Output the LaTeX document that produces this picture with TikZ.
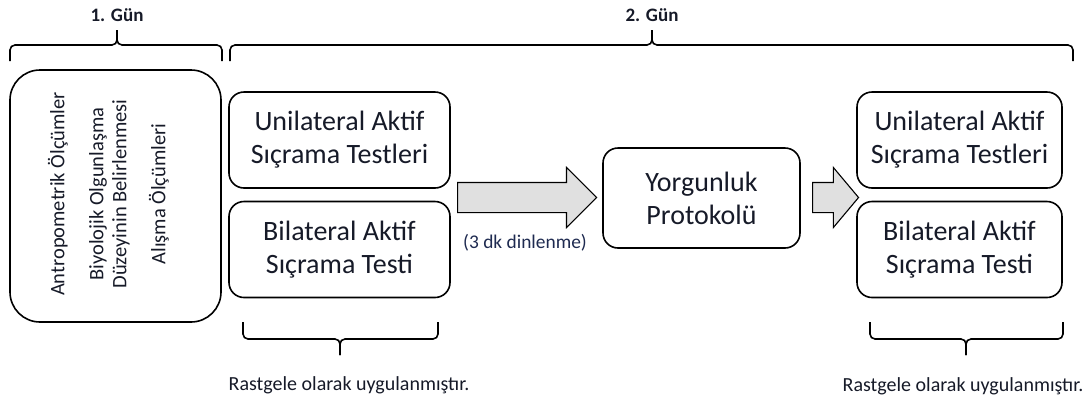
\documentclass[tikz,border=0pt]{standalone}
\usepackage{fontspec}
\setmainfont{Carlito}
\usepackage{tikz}
\usetikzlibrary{shapes.arrows}

\definecolor{textcol}{RGB}{22,26,40}
\definecolor{restcol}{RGB}{30,42,80}
\definecolor{arrowfill}{RGB}{224,224,224}

\begin{document}
\begin{tikzpicture}[x=1pt, y=-1pt, auto]
    \tikzstyle{block} = [draw, rectangle, rounded corners=15pt, line width=1.6pt, align=center, text=textcol, minimum width=221pt, minimum height=96pt, inner sep=0pt, font=\fontsize{28}{33}\selectfont];
    \tikzstyle{bigarrow} = [draw, single arrow, fill=arrowfill, line width=1.1pt, inner xsep=0pt, inner ysep=14.5pt, single arrow head extend=15pt, anchor=tail];
    \tikzstyle{brace} = [draw, line width=1.6pt, rounded corners=5pt];
    \tikzstyle{note} = [text=textcol, font=\fontsize{20}{24}\selectfont];
    \tikzstyle{day} = [text=textcol, font=\bfseries\fontsize{19}{22}\selectfont];
    \useasboundingbox (0,0) rectangle (1082,400);

    % 1. gun
    \node[block, minimum width=211pt, minimum height=252pt, rounded corners=30pt] (pre) at (115.5,196) {};
    \node[rotate=90, align=center, text=textcol, font=\fontsize{20.5}{23}\selectfont] (pretext) at (108.5,194)
        {Antropometrik Ölçümler\\[16pt] Biyolojik Olgunlaşma\\ Düzeyinin Belirlenmesi\\[16pt] Alışma Ölçümleri};

    % 2. gun
    \node[block] (uni1) at (339.5,140) {Unilateral Aktif\\Sıçrama Testleri};
    \node[block] (bi1) at (339.5,249.5) {Bilateral Aktif\\Sıçrama Testi};
    \node[block, minimum width=197pt, minimum height=100pt] (fat) at (701.5,198) {Yorgunluk\\Protokolü};
    \node[block, minimum width=205pt] (uni2) at (959.5,140) {Unilateral Aktif\\Sıçrama Testleri};
    \node[block, minimum width=205pt] (bi2) at (959.5,249.5) {Bilateral Aktif\\Sıçrama Testi};

    % oklar
    \node[bigarrow, minimum height=139pt] (arr1) at (457,197.5) {};
    \node[bigarrow, minimum height=46pt, single arrow tip angle=100] (arr2) at (812,197.5) {};
    \node[text=restcol, font=\fontsize{19.4}{22}\selectfont] (rest) at (525,243) {(3 dk dinlenme)};

    % ustteki parantezler
    \coordinate (d1l) at (10,61);
    \coordinate (d1r) at (222,61);
    \coordinate (d1m) at (117,45);
    \coordinate (d1t) at (117,30);
    \coordinate (d2l) at (230,61);
    \coordinate (d2r) at (1073,61);
    \coordinate (d2m) at (652,45);
    \coordinate (d2t) at (652,30);
    \path[brace] (d1l) |- (d1m) -- (d1t);
    \path[brace] (d1r) |- (d1m) -- (d1t);
    \path[brace] (d2l) |- (d2m) -- (d2t);
    \path[brace] (d2r) |- (d2m) -- (d2t);
    \node[day] (day1) at (117,15) {1. Gün};
    \node[day] (day2) at (652,15) {2. Gün};

    % alttaki parantezler
    \coordinate (r1l) at (243,322);
    \coordinate (r1r) at (438,322);
    \coordinate (r1m) at (340,339);
    \coordinate (r1t) at (340,355);
    \coordinate (r2l) at (870,322);
    \coordinate (r2r) at (1063,322);
    \coordinate (r2m) at (966,339);
    \coordinate (r2t) at (966,355);
    \path[brace] (r1l) |- (r1m) -- (r1t);
    \path[brace] (r1r) |- (r1m) -- (r1t);
    \path[brace] (r2l) |- (r2m) -- (r2t);
    \path[brace] (r2r) |- (r2m) -- (r2t);
    \node[note] (rand1) at (349,385) {Rastgele olarak uygulanmıştır.};
    \node[note] (rand2) at (963,386) {Rastgele olarak uygulanmıştır.};
\end{tikzpicture}
\end{document}
